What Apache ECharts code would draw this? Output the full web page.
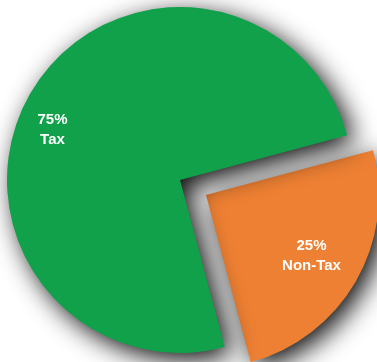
<!DOCTYPE html>
<html>
<head>
<meta charset="utf-8">
<script src="https://cdn.jsdelivr.net/npm/echarts@6/dist/echarts.min.js"></script>
<style>
  html, body { margin: 0; padding: 0; background: #ffffff; }
  #chart { width: 377px; height: 362px; }
</style>
</head>
<body>
<div id="chart"></div>
<script>
// Revenue split
const categories = ['Non-Tax', 'Tax'];
const shares = [25, 75];
const sliceColors = ['#ee8033', '#11a14b'];

// Nudges for the in-slice labels (pixels)
const labelNudge = [
  { dx: 28, dy: 16 },
  { dx: -50, dy: -5 }
];

const chart = echarts.init(document.getElementById('chart'), null, { renderer: 'canvas' });

chart.setOption({
  animation: false,
  backgroundColor: '#ffffff',
  series: [{
    type: 'pie',
    center: [180, 180],
    radius: [0, 173],
    startAngle: 15,
    clockwise: true,
    selectedMode: 'single',
    selectedOffset: 30,
    emphasis: { disabled: true },
    itemStyle: {
      shadowBlur: 26,
      shadowOffsetX: 7,
      shadowOffsetY: 7,
      shadowColor: 'rgba(0,0,0,0.95)'
    },
    label: {
      show: true,
      position: 'inside',
      formatter: '{d}%\n{b}',
      color: '#ffffff',
      fontFamily: 'Liberation Sans, Arial, sans-serif',
      fontWeight: 'bold',
      fontSize: 15,
      lineHeight: 20,
      align: 'center'
    },
    labelLine: { show: false },
    labelLayout: function (params) {
      return labelNudge[params.dataIndex];
    },
    data: categories.map(function (name, i) {
      return {
        name: name,
        value: shares[i],
        selected: i === 0,
        itemStyle: { color: sliceColors[i] }
      };
    })
  }]
});
</script>
</body>
</html>
